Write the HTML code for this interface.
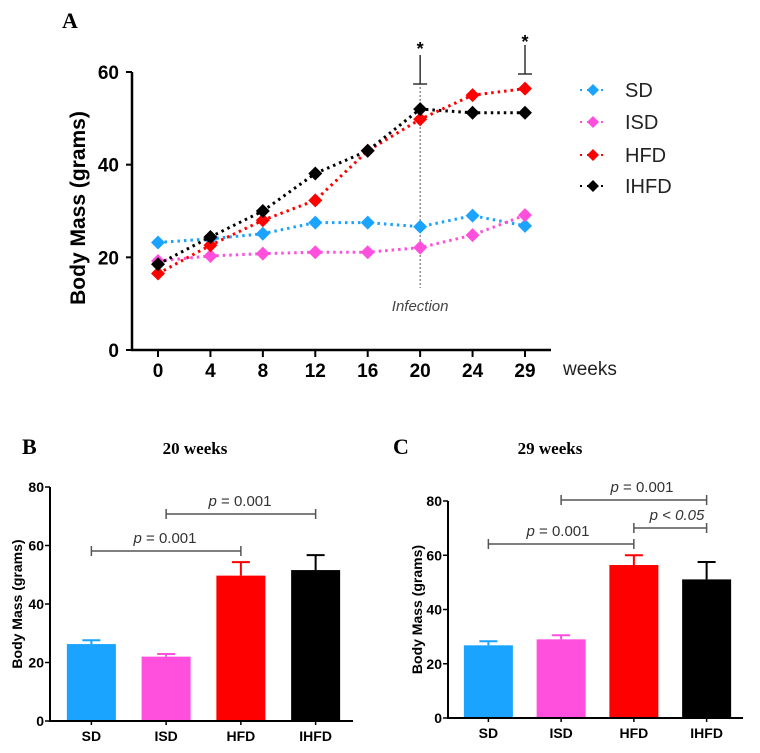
<!DOCTYPE html>
<html><head><meta charset="utf-8"><style>
body{margin:0;background:#fff;}
svg{display:block;font-family:"Liberation Sans",sans-serif;}
</style></head><body>
<svg id="fig" width="760" height="753" viewBox="0 0 760 753">
<text x="62" y="28" font-family="Liberation Serif" font-weight="bold" font-size="22">A</text>
<text x="22" y="454" font-family="Liberation Serif" font-weight="bold" font-size="22">B</text>
<text x="393" y="454" font-family="Liberation Serif" font-weight="bold" font-size="22">C</text>
<text x="195" y="454" text-anchor="middle" font-family="Liberation Serif" font-weight="bold" font-size="17">20 weeks</text>
<text x="550" y="454" text-anchor="middle" font-family="Liberation Serif" font-weight="bold" font-size="17">29 weeks</text>
<g id="gA"></g>
<g id="gB"></g>
<g id="gC"></g>
</svg>
<script>
const weeks = ["0","4","8","12","16","20","24","29"];
const sdVals = [23.2, 24.0, 25.1, 27.5, 27.5, 26.6, 29.0, 26.8];
const isdVals = [19.2, 20.3, 20.8, 21.1, 21.1, 22.1, 24.8, 29.1];
const hfdVals = [16.5, 22.6, 28.0, 32.3, 43.0, 49.8, 55.0, 56.4];
const ihfdVals = [18.5, 24.4, 30.0, 38.1, 43.0, 52.0, 51.2, 51.2];
const seriesNames = ["SD","ISD","HFD","IHFD"];
const aTicks = [0,20,40,60];
const barCats = ["SD","ISD","HFD","IHFD"];
const b20Vals = [26.3, 22.0, 49.7, 51.6];
const b20Err = [1.3, 0.9, 4.6, 5.1];
const b29Vals = [26.8, 29.0, 56.4, 51.1];
const b29Err = [1.5, 1.5, 3.6, 6.4];
const barTicks = [0,20,40,60,80];

const NS="http://www.w3.org/2000/svg";
function el(p,t,a,txt){const e=document.createElementNS(NS,t);for(const k in a)e.setAttribute(k,a[k]);if(txt!==undefined)e.textContent=txt;p.appendChild(e);return e;}
const colors=["#1aa3ff","#ff4fdc","#ff0000","#000000"];

// Panel A
const gA=document.getElementById('gA');
const ax0=158, ax1=525, ay0=350, ay60=72;
const xA=i=>ax0+i*(ax1-ax0)/(weeks.length-1);
const yA=v=>ay0-(v/60)*(ay0-ay60);
let e;
e=el(gA,'line',{x1:132,y1:yA(60),x2:132,y2:ay0+1,stroke:'#000','stroke-width':2.5});


e=el(gA,'line',{x1:131,y1:ay0,x2:551,y2:ay0,stroke:'#000','stroke-width':2.5});


aTicks.forEach(t=>{
  el(gA,'line',{x1:126,y1:yA(t),x2:132,y2:yA(t),stroke:'#000','stroke-width':2});
  e=el(gA,'text',{x:119,y:yA(t)+7,'text-anchor':'end','font-weight':'bold','font-size':19},t);
  
  
});
weeks.forEach((w,i)=>{
  el(gA,'line',{x1:xA(i),y1:ay0,x2:xA(i),y2:ay0+7,stroke:'#000','stroke-width':2});
  e=el(gA,'text',{x:xA(i),y:377,'text-anchor':'middle','font-weight':'bold','font-size':19},w);
  
  
});
e=el(gA,'text',{x:563,y:375,'font-size':19,fill:'#222'},'weeks');


e=el(gA,'text',{x:0,y:0,transform:'translate(85,208) rotate(-90)','text-anchor':'middle','font-weight':'bold','font-size':21},'Body Mass (grams)');


// infection line
e=el(gA,'line',{x1:xA(5),y1:83,x2:xA(5),y2:288,stroke:'#555','stroke-width':1,'stroke-dasharray':'2 2'});


e=el(gA,'text',{x:xA(5),y:311,'text-anchor':'middle','font-style':'italic','font-size':15,fill:'#444'},'Infection');


// significance marks
[[5,47,55,84],[7,40,45,74]].forEach(s=>{
  const x=xA(s[0]);
  e=el(gA,'text',{x:x,y:s[1]+8,'text-anchor':'middle','font-weight':'bold','font-size':18},'*');
  
  
  el(gA,'line',{x1:x,y1:s[2],x2:x,y2:s[3],stroke:'#333','stroke-width':1.5});
  el(gA,'line',{x1:x-7,y1:s[3],x2:x+7,y2:s[3],stroke:'#333','stroke-width':1.5});
});
const allSeries=[sdVals,isdVals,hfdVals,ihfdVals];
allSeries.forEach((vals,si)=>{
  const pts=vals.map((v,i)=>xA(i)+','+yA(v)).join(' ');
  e=el(gA,'polyline',{points:pts,fill:'none',stroke:colors[si],'stroke-width':3,'stroke-dasharray':'2.5 4'});
  
  
  vals.forEach((v,i)=>{
    const x=xA(i),y=yA(v);
    e=el(gA,'polygon',{points:`${x},${y-7} ${x+7},${y} ${x},${y+7} ${x-7},${y}`,fill:colors[si]});
    
    
  });
});
// legend
const legY=[90,122,155,186];
seriesNames.forEach((n,i)=>{
  const y=legY[i];
  el(gA,'line',{x1:580,y1:y,x2:606,y2:y,stroke:colors[i],'stroke-width':2,'stroke-dasharray':'2 5'});
  e=el(gA,'polygon',{points:`593,${y-6} 599,${y} 593,${y+6} 587,${y}`,fill:colors[i]});
  
  
  e=el(gA,'text',{x:625,y:y+7,'font-size':20,fill:'#222'},n);
  
  
});

// Bar charts
function barChart(g,cfg,vals,errs,brackets){
  const y=v=>cfg.y0-(v/80)*(cfg.y0-cfg.y80);
  const step=(cfg.xEnd-cfg.ax-4)/4;
  const cx=i=>cfg.ax+4+step*(i+0.5);
  const bw=49;
  let e;
  vals.forEach((v,i)=>{
    const x=cx(i);
    el(g,'line',{x1:x,y1:y(v),x2:x,y2:y(v+errs[i]),stroke:colors[i],'stroke-width':2});
    el(g,'line',{x1:x-9,y1:y(v+errs[i]),x2:x+9,y2:y(v+errs[i]),stroke:colors[i],'stroke-width':2});
    e=el(g,'rect',{x:x-bw/2,y:y(v),width:bw,height:cfg.y0-y(v),fill:colors[i]});
    
    
    e=el(g,'text',{x:x,y:cfg.y0+20,'text-anchor':'middle','font-weight':'bold','font-size':14},barCats[i]);
    
    
    el(g,'line',{x1:x,y1:cfg.y0,x2:x,y2:cfg.y0+4,stroke:'#000','stroke-width':1.5});
  });
  e=el(g,'line',{x1:cfg.ax,y1:y(80),x2:cfg.ax,y2:cfg.y0+1,stroke:'#000','stroke-width':2});
  
  
  e=el(g,'line',{x1:cfg.ax-1,y1:cfg.y0,x2:cfg.xEnd,y2:cfg.y0,stroke:'#000','stroke-width':2});
  
  
  barTicks.forEach(t=>{
    el(g,'line',{x1:cfg.ax-5,y1:y(t),x2:cfg.ax,y2:y(t),stroke:'#000','stroke-width':1.5});
    e=el(g,'text',{x:cfg.ax-6,y:y(t)+5,'text-anchor':'end','font-weight':'bold','font-size':14},t);
    
    
  });
  e=el(g,'text',{x:0,y:0,transform:`translate(${cfg.labX},${(y(80)+cfg.y0)/2}) rotate(-90)`,'text-anchor':'middle','font-weight':'bold','font-size':14},'Body Mass (grams)');
  
  
  brackets.forEach(b=>{
    const x1=cx(b[0]),x2=cx(b[1]),by=b[2];
    e=el(g,'line',{x1:x1,y1:by,x2:x2,y2:by,stroke:'#555','stroke-width':1.5});
    
    
    el(g,'line',{x1:x1,y1:by-5,x2:x1,y2:by+5,stroke:'#555','stroke-width':1.5});
    el(g,'line',{x1:x2,y1:by-5,x2:x2,y2:by+5,stroke:'#555','stroke-width':1.5});
    const t=el(g,'text',{x:b[4],y:by-8,'text-anchor':'middle','font-size':15,fill:'#333'});
    const ip=el(t,'tspan',{'font-style':'italic'},'p');
    el(t,'tspan',{'font-style':b[5]?'italic':'normal'},b[3]);
    
    
  });
}
barChart(document.getElementById('gB'),{ax:50,xEnd:353,y0:721,y80:487,labX:22},b20Vals,b20Err,
  [[0,2,551,' = 0.001',165,false],[1,3,514,' = 0.001',240,false]]);
barChart(document.getElementById('gC'),{ax:448,xEnd:743,y0:718,y80:501,labX:422},b29Vals,b29Err,
  [[0,2,544,' = 0.001',558,false],[2,3,528,' < 0.05',677,true],[1,3,500,' = 0.001',642,false]]);
</script>
</body></html>
